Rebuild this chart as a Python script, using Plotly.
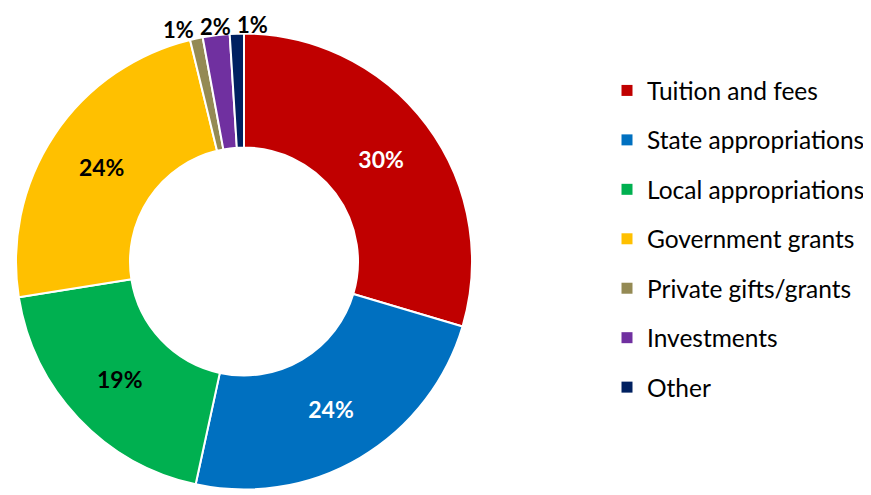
import math
import plotly.graph_objects as go

# revenue sources (share of total, %)
labels = ['Tuition and fees', 'State appropriations', 'Local appropriations',
          'Government grants', 'Private gifts/grants', 'Investments', 'Other']
values = [29.6, 23.8, 19.1, 23.7, 0.9, 1.9, 1.0]
colors = ['#C00000', '#0070C0', '#00B050', '#FFC000', '#948A54', '#7030A0', '#002060']
text_colors = ['white', 'white', 'black', 'black', 'black', 'black', 'black']
small = [False, False, False, False, True, True, True]  # labelled outside the ring

OFF = 8  # the page body has an 8px margin
W, H = 871 - OFF, 495 - OFF
FONT = 'Lato'

# pie box in page pixels (left, right, top, bottom)
PX0, PX1, PY0, PY1 = 16 - OFF, 472 - OFF, 33 - OFF, 490 - OFF
cx, cy = (PX0 + PX1) / 2, (PY0 + PY1) / 2
R = min(PX1 - PX0, PY1 - PY0) / 2

fig = go.Figure()

fig.add_trace(
    go.Pie(
        labels=labels,
        values=values,
        hole=0.5,
        sort=False,
        direction='clockwise',
        rotation=0,
        marker=dict(colors=colors, line=dict(color='white', width=2)),
        texttemplate=['' if s else '%{percent:.0%}' for s in small],
        textposition='inside',
        insidetextorientation='horizontal',
        textfont=dict(family=FONT, size=23, color=text_colors, weight='bold'),
        domain=dict(x=[PX0 / W, PX1 / W], y=[1 - PY1 / H, 1 - PY0 / H]),
        showlegend=False,
        hoverinfo='label+percent',
    )
)

# outside labels for the thin slices, placed on the slice's mid angle
total = sum(values)
cum = 0
pts = []
for v, s in zip(values, small):
    mid = (cum + v / 2) / total * 2 * math.pi
    cum += v
    if s:
        r = R + 9
        pts.append([cx + r * math.sin(mid), cy - r * math.cos(mid), '{:.0%}'.format(v / total)])

# spread them so they don't overlap
gap = 37
mean_x = sum(p[0] for p in pts) / len(pts)
for i, p in enumerate(pts):
    p[0] = mean_x + (i - (len(pts) - 1) / 2) * gap

for x, y, t in pts:
    fig.add_annotation(
        x=x / W, y=1 - y / H, xref='paper', yref='paper',
        xanchor='center', yanchor='middle',
        text='<b>{}</b>'.format(t), showarrow=False,
        font=dict(family=FONT, size=22, color='black'),
    )

# legend entries (one group each so the spacing can be set)
for lab, col in zip(labels, colors):
    fig.add_trace(
        go.Scatter(
            x=[None], y=[None],
            mode='markers',
            name=lab,
            legendgroup=lab,
            marker=dict(color=col, symbol='square', size=11),
        )
    )

fig.update_layout(
    width=W,
    height=H,
    margin=dict(l=0, r=0, t=0, b=0),
    paper_bgcolor='white',
    plot_bgcolor='white',
    xaxis=dict(visible=False),
    yaxis=dict(visible=False),
    font=dict(family=FONT, color='black'),
    legend=dict(
        x=(607 - OFF) / W,
        xanchor='left',
        y=1 - (68 - OFF) / H,
        yanchor='top',
        font=dict(family=FONT, size=24.5, color='black'),
        tracegroupgap=14.6,
        bgcolor='rgba(0,0,0,0)',
    ),
)

fig.write_html('out.html')
